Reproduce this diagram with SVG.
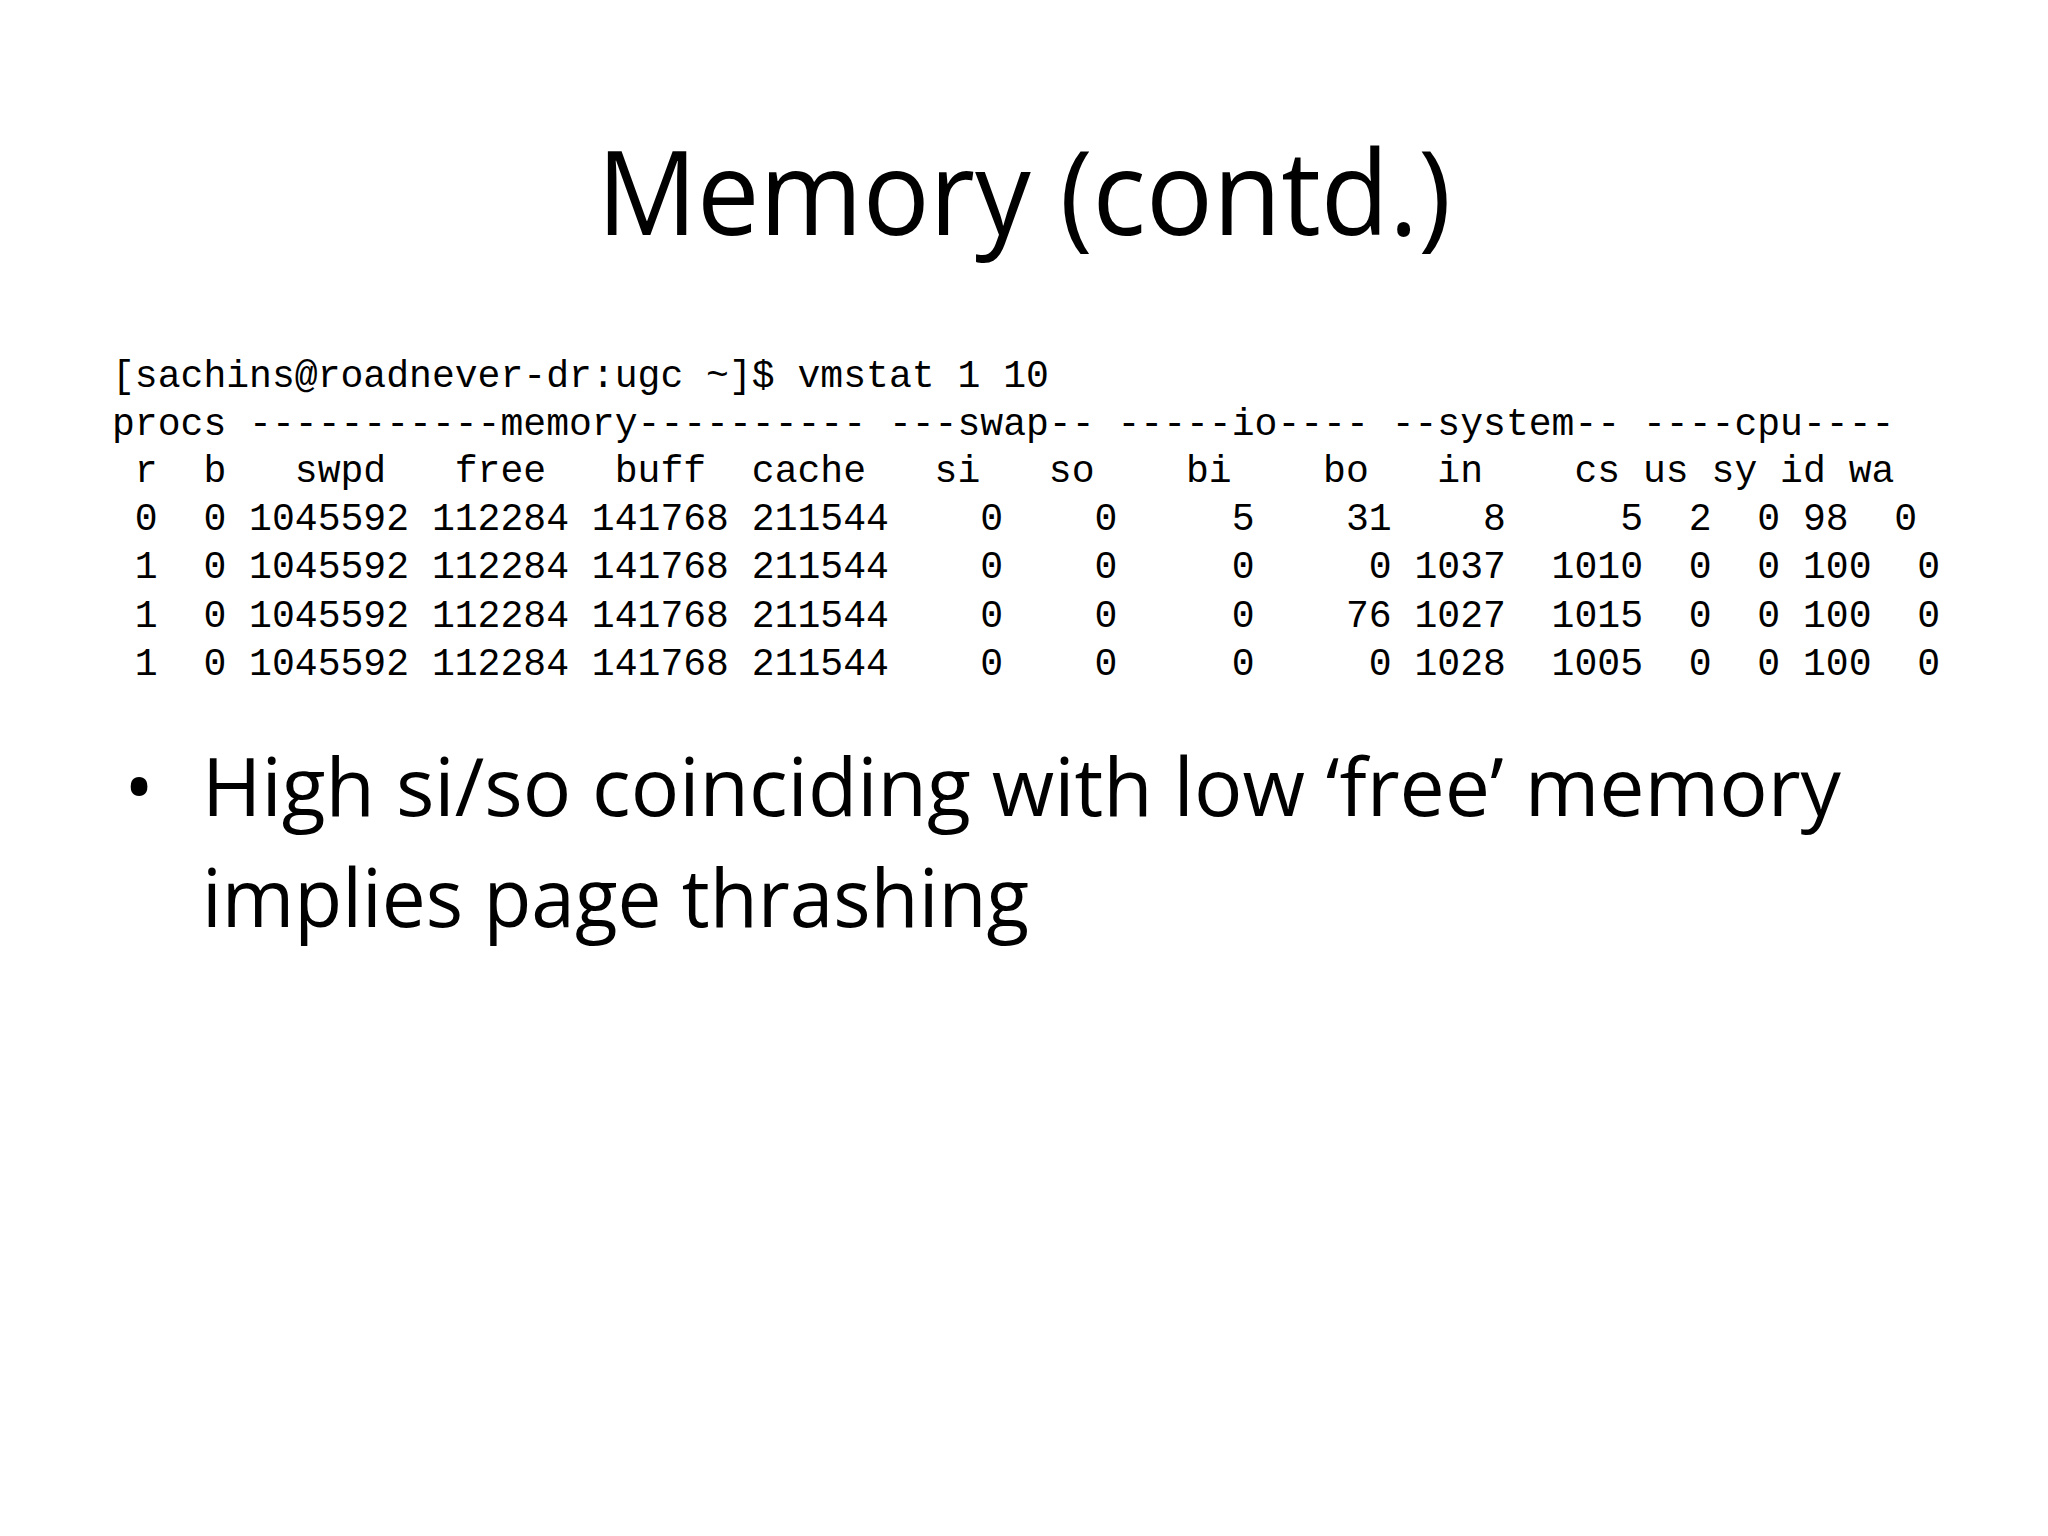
<svg xmlns="http://www.w3.org/2000/svg" width="2048" height="1536" viewBox="0 0 2048 1536">
<style>
.t{font-family:"Open Sans","Liberation Sans",sans-serif;fill:#000}
.m{font-family:"Liberation Mono","DejaVu Sans Mono",monospace;font-size:38.1px;fill:#000;white-space:pre}
</style>
<rect width="2048" height="1536" fill="#fff"/>
<text class="t" x="597" y="235" font-size="118" textLength="854" lengthAdjust="spacingAndGlyphs">Memory (contd.)</text>
<g id="terminal">
<text class="m" x="112" y="387" xml:space="preserve">[sachins@roadnever-dr:ugc ~]$ vmstat 1 10</text>
<text class="m" x="112" y="435" xml:space="preserve">procs -----------memory---------- ---swap-- -----io---- --system-- ----cpu----</text>
<text class="m" x="112" y="482" xml:space="preserve"> r  b   swpd   free   buff  cache   si   so    bi    bo   in    cs us sy id wa</text>
<text class="m" x="112" y="530" xml:space="preserve"> 0  0 1045592 112284 141768 211544    0    0     5    31    8     5  2  0 98  0</text>
<text class="m" x="112" y="578" xml:space="preserve"> 1  0 1045592 112284 141768 211544    0    0     0     0 1037  1010  0  0 100  0</text>
<text class="m" x="112" y="627" xml:space="preserve"> 1  0 1045592 112284 141768 211544    0    0     0    76 1027  1015  0  0 100  0</text>
<text class="m" x="112" y="675" xml:space="preserve"> 1  0 1045592 112284 141768 211544    0    0     0     0 1028  1005  0  0 100  0</text>
</g>
<g id="bullet">
<text class="t" x="124" y="816" font-size="80">•</text>
<text class="t" x="202" y="816" font-size="80" textLength="1639" lengthAdjust="spacingAndGlyphs">High si/so coinciding with low ‘free’ memory</text>
<text class="t" x="202" y="927" font-size="80" textLength="827" lengthAdjust="spacingAndGlyphs">implies page thrashing</text>
</g>
</svg>
